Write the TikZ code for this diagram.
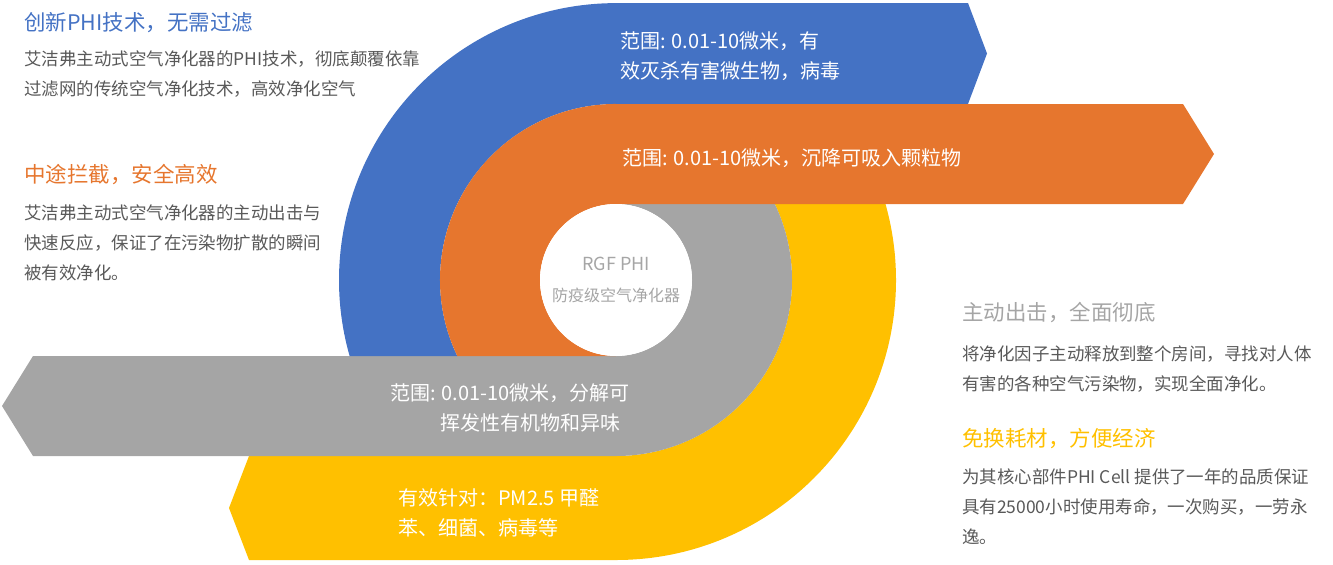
\documentclass[tikz,border=0pt]{standalone}
\usepackage{fontspec}
\setmainfont{Noto Sans CJK SC}
\usepackage{tikz}
\usetikzlibrary{positioning}
\definecolor{colblue}{RGB}{68,114,196}
\definecolor{colorange}{RGB}{230,118,46}
\definecolor{colgrey}{RGB}{165,165,165}
\definecolor{colgold}{RGB}{255,192,0}
\definecolor{coltext}{RGB}{89,89,89}
\definecolor{colcore}{RGB}{166,166,166}
\tikzstyle{head}=[anchor=west, inner sep=0, font=\fontsize{16.1}{20}\selectfont]
\tikzstyle{body}=[inner sep=0, align=left, text=coltext, font=\fontsize{13.1}{22.5}\selectfont]
\tikzstyle{bandtext}=[anchor=north west, inner sep=0, align=left, text=white, font=\fontsize{15}{22.5}\selectfont]
\tikzstyle{core}=[circle, fill=white, inner sep=0, minimum size=114pt, align=center, text=colcore, font=\fontsize{12}{23.25}\selectfont]

\begin{document}
\begin{tikzpicture}[x=0.75pt,y=-0.75pt]
    \useasboundingbox (0,0) rectangle (1333,564);
    % bands
    \fill[colgold] (616,456) -- (249,456) -- (229,508) -- (249,560) -- (616,560)
        arc[start angle=90, end angle=-30, radius=280] -- (768.4,192)
        arc[start angle=-30, end angle=90, radius=176] -- cycle;
    \fill[colgrey] (616,204) arc[start angle=270, end angle=450, radius=76]
        -- (33,356) -- (2,406) -- (33,456) -- (616,456)
        arc[start angle=90, end angle=-90, radius=176] -- cycle;
    \fill[colblue] (616,3) -- (968,3) -- (987,53.5) -- (968,104) -- (616,104)
        arc[start angle=270, end angle=154.4, radius=176] -- (349.6,356)
        arc[start angle=164.1, end angle=270, radius=277] -- cycle;
    \fill[colorange] (616,104) -- (1183,104) -- (1214,154) -- (1183,204) -- (616,204)
        arc[start angle=270, end angle=90, radius=76] -- (457.3,356)
        arc[start angle=154.4, end angle=270, radius=176] -- cycle;
    \node[core] (ctr) at (616,280) {{\fontsize{13.5}{23.25}\selectfont RGF PHI}\\防疫级空气净化器};
    % texts in the bands
    \node[bandtext] (tblue) at (620,31.3) {范围: 0.01-10微米，有\\效灭杀有害微生物，病毒};
    \node[bandtext] (torange) at (622,148.3) {范围: 0.01-10微米，沉降可吸入颗粒物};
    \node[bandtext] (tgrey) at (390,383.3) {范围: 0.01-10微米，分解可\\\hspace*{2.5em}挥发性有机物和异味};
    \node[bandtext] (tgold) at (398,488.3) {有效针对：PM2.5 甲醛\\苯、细菌、病毒等};
    % left
    \node[head, text=colblue] (h1) at (24,23) {创新PHI技术，无需过滤};
    \node[body] (b1) [below=12.8pt of h1.south west, anchor=north west] {艾洁弗主动式空气净化器的PHI技术，彻底颠覆依靠\\过滤网的传统空气净化技术，高效净化空气};
    \node[head, text=colorange] (h2) at (24,175) {中途拦截，安全高效};
    \node[body] (b2) [below=14.3pt of h2.south west, anchor=north west] {艾洁弗主动式空气净化器的主动出击与\\快速反应，保证了在污染物扩散的瞬间\\被有效净化。};
    % right
    \node[head, text=colgrey] (h3) at (962,313) {主动出击，全面彻底};
    \node[body] (b3) [below=16.5pt of h3.south west, anchor=north west] {将净化因子主动释放到整个房间，寻找对人体\\有害的各种空气污染物，实现全面净化。};
    \node[head, text=colgold] (h4) at (962,439) {免换耗材，方便经济};
    \node[body] (b4) [below=14.3pt of h4.south west, anchor=north west] {为其核心部件PHI Cell 提供了一年的品质保证\\具有25000小时使用寿命，一次购买，一劳永\\逸。};
\end{tikzpicture}
\end{document}
